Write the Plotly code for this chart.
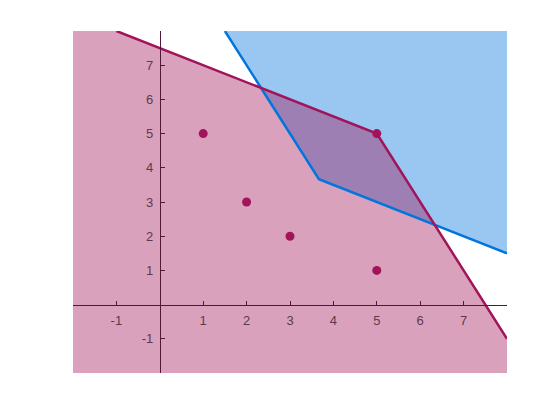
import plotly.graph_objects as go

# data
pts_x = [1, 2, 3, 5, 5]
pts_y = [5, 3, 2, 1, 5]
# red feasible region (pink) boundary: y <= -0.5x+7.5 and y <= -2x+15
red_x = [-2, -1, 5, 8, 8, -2]
red_y = [8, 8, 5, -1, -2, -2]
red_line_x = [-1, 5, 8]
red_line_y = [8, 5, -1]
# blue region: y >= -2x+11 and y >= -0.5x+5.5
blue_x = [1.5, 11/3, 8, 8]
blue_y = [8, 11/3, 1.5, 8]
blue_line_x = [1.5, 11/3, 8]
blue_line_y = [8, 11/3, 1.5]

tick_vals = [-2, -1, 1, 2, 3, 4, 5, 6, 7, 8]
tick_text = ["", "-1", "1", "2", "3", "4", "5", "6", "7", ""]

RED = "#A2145A"
BLUE = "#0075DC"
AX = "#4f1a37"
TXT = "#5e3a4e"

fig = go.Figure()
fig.add_trace(go.Scatter(x=blue_x, y=blue_y, fill="toself", mode="none",
                         fillcolor="rgba(0,114,219,0.4)", hoverinfo="skip"))
fig.add_trace(go.Scatter(x=red_x, y=red_y, fill="toself", mode="none",
                         fillcolor="rgba(162,20,90,0.4)", hoverinfo="skip"))
fig.add_trace(go.Scatter(x=blue_line_x, y=blue_line_y, mode="lines",
                         line=dict(color=BLUE, width=2.5)))
fig.add_trace(go.Scatter(x=red_line_x, y=red_line_y, mode="lines",
                         line=dict(color=RED, width=2.5)))
fig.add_trace(go.Scatter(x=pts_x, y=pts_y, mode="markers",
                         marker=dict(color=RED, size=9)))

axis_common = dict(range=[-2, 8], showgrid=False, zeroline=False,
                   showline=True, linecolor=AX, linewidth=1,
                   ticks="inside", ticklen=4, tickcolor=AX, tickwidth=1,
                   tickvals=tick_vals, ticktext=tick_text,
                   tickfont=dict(family="Liberation Sans, Arial", size=13, color=TXT),
                   anchor="free", position=0.2, fixedrange=True)

fig.update_layout(
    width=552, height=412,
    margin=dict(l=65, r=53, t=23, b=47),
    paper_bgcolor="white", plot_bgcolor="white",
    showlegend=False,
    xaxis=dict(axis_common, ticklabelstandoff=4),
    yaxis=dict(axis_common, ticklabelstandoff=4),
)
fig.write_html("out.html")
